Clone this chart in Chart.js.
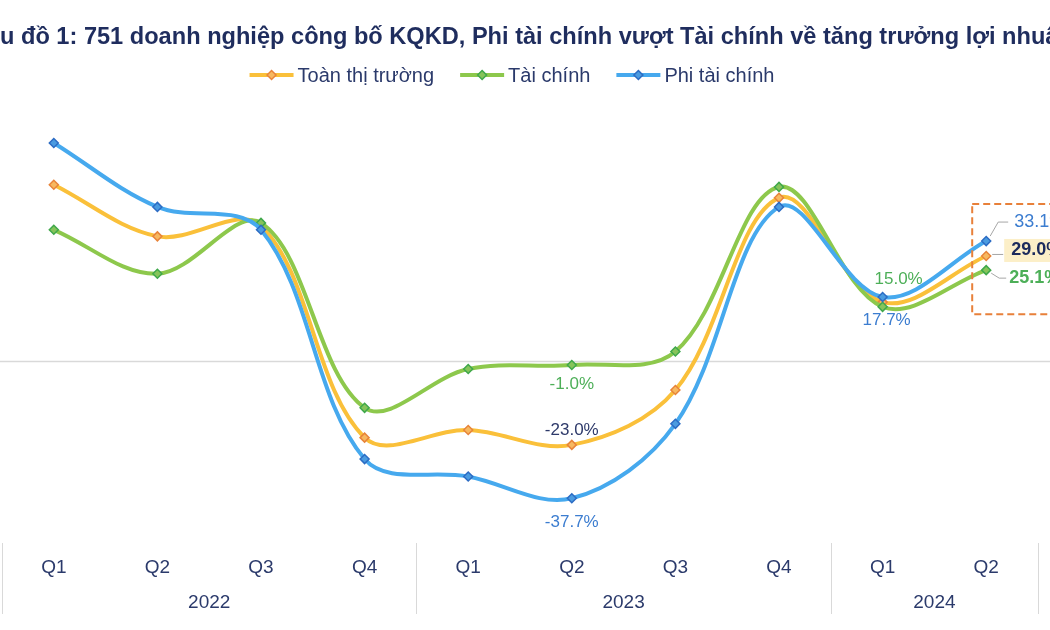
<!DOCTYPE html>
<html>
<head>
<meta charset="utf-8">
<script src="https://cdn.jsdelivr.net/npm/chart.js@4.4.1/dist/chart.umd.min.js"></script>
<style>
  html, body { margin: 0; padding: 0; background: #fff; }
  #wrap { width: 1050px; height: 630px; overflow: hidden; }
</style>
</head>
<body>
<div id="wrap"><canvas id="chart" width="1050" height="630"></canvas></div>
<script>
// data
const quarters = ["Q1", "Q2", "Q3", "Q4", "Q1", "Q2", "Q3", "Q4", "Q1", "Q2"];
const years = ["2022", "2023", "2024"];
const quartersPerYear = [4, 4, 2];
const seriesNames = ["Toàn thị trường", "Tài chính", "Phi tài chính"];
const toanThiTruong = [48.6, 34.4, 37.3, -21.0, -18.9, -23.0, -7.9, 45.0, 16.3, 29.0];
const taiChinh = [36.2, 24.1, 38.1, -12.8, -2.1, -1.0, 2.7, 48.0, 15.0, 25.1];
const phiTaiChinh = [60.1, 42.5, 36.2, -26.9, -31.7, -37.7, -17.2, 42.5, 17.7, 33.1];

const titleText = "Biểu đồ 1: 751 doanh nghiệp công bố KQKD, Phi tài chính vượt Tài chính về tăng trưởng lợi nhuận";

// styles
const lineColors = ["#FAC03A", "#8DC84C", "#46A9EE"];
const markerBorders = ["#E8843A", "#3FA84B", "#2C6CC4"];
const markerFills = ["#F7B860", "#86C45A", "#4A9BE0"];
const labelColors = ["#2E3A6A", "#4DAF58", "#3C7DD0"];
const navy = "#2B3A6B";
const FONT = "Arial, 'Liberation Sans', sans-serif";

// group centers / boundaries for the year row
const yearCenters = [];
const yearBounds = [-0.5];
let start = 0;
quartersPerYear.forEach(n => {
  yearCenters.push(start + (n - 1) / 2);
  start += n;
  yearBounds.push(start - 0.5);
});

// which points carry a plain value label (dataset, index, offset)
const pointLabels = [
  { ds: 1, i: 5, dx: 0, dy: 19 },
  { ds: 0, i: 5, dx: 0, dy: -15 },
  { ds: 2, i: 5, dx: 0, dy: 24 },
  { ds: 1, i: 8, dx: 16, dy: -28 },
  { ds: 2, i: 8, dx: 4, dy: 23 }
];

function diamond(ctx, cx, cy, r, fill, stroke) {
  ctx.beginPath();
  ctx.moveTo(cx, cy - r);
  ctx.lineTo(cx + r, cy);
  ctx.lineTo(cx, cy + r);
  ctx.lineTo(cx - r, cy);
  ctx.closePath();
  ctx.fillStyle = fill;
  ctx.fill();
  ctx.lineWidth = 1.5;
  ctx.strokeStyle = stroke;
  ctx.stroke();
}

function fmt(v) { return v.toFixed(1) + "%"; }

const decor = {
  id: "decor",
  beforeDatasetsDraw(chart) {
    // zero line across the whole width
    const ctx = chart.ctx;
    const y0 = Math.round(chart.scales.y.getPixelForValue(0)) + 0.5;
    ctx.save();
    ctx.strokeStyle = "#D9D9D9";
    ctx.lineWidth = 1.5;
    ctx.beginPath();
    ctx.moveTo(0, y0);
    ctx.lineTo(chart.width, y0);
    ctx.stroke();
    ctx.restore();
  },
  afterDraw(chart) {
    const ctx = chart.ctx;
    const area = chart.chartArea;
    const x2 = chart.scales.x2;
    ctx.save();

    // title (cropped on both sides like the source)
    ctx.font = "bold 20px " + FONT;
    const wAll = ctx.measureText(titleText).width;
    const wCut = ctx.measureText("Biể").width;
    const wHide = ctx.measureText("n").width + ctx.measureText("ậ").width * 0.5;
    const size = 20 * 1052 / (wAll - wCut - wHide);
    ctx.font = "bold " + size.toFixed(2) + "px " + FONT;
    ctx.fillStyle = "#1F2D5E";
    ctx.textBaseline = "middle";
    ctx.textAlign = "left";
    ctx.fillText(titleText, -ctx.measureText("Biể").width, 37);

    // legend
    ctx.font = "20px " + FONT;
    const lineLen = 44, gapText = 4, gapItem = 26;
    const widths = seriesNames.map(s => ctx.measureText(s).width);
    const total = widths.reduce((a, w) => a + lineLen + gapText + w, 0) + gapItem * (seriesNames.length - 1);
    let lx = 512 - total / 2;
    const ly = 75;
    seriesNames.forEach((name, k) => {
      ctx.strokeStyle = lineColors[k];
      ctx.lineWidth = 4;
      ctx.beginPath();
      ctx.moveTo(lx, ly);
      ctx.lineTo(lx + lineLen, ly);
      ctx.stroke();
      diamond(ctx, lx + lineLen / 2, ly, 4.5, markerFills[k], markerBorders[k]);
      ctx.fillStyle = navy;
      ctx.fillText(name, lx + lineLen + gapText, ly + 1);
      lx += lineLen + gapText + widths[k] + gapItem;
    });

    // year separators
    ctx.strokeStyle = "#D9D9D9";
    ctx.lineWidth = 1;
    yearBounds.forEach(b => {
      const px = Math.round(x2.getPixelForValue(b)) + 0.5;
      ctx.beginPath();
      ctx.moveTo(px, area.bottom);
      ctx.lineTo(px, area.bottom + 71);
      ctx.stroke();
    });

    // plain value labels
    ctx.font = "17px " + FONT;
    ctx.textAlign = "center";
    const sets = chart.data.datasets;
    pointLabels.forEach(l => {
      const p = chart.getDatasetMeta(l.ds).data[l.i];
      ctx.fillStyle = labelColors[l.ds];
      ctx.fillText(fmt(sets[l.ds].data[l.i]), p.x + l.dx, p.y + l.dy);
    });

    // callouts for the last quarter
    const last = quarters.length - 1;
    const pT = chart.getDatasetMeta(0).data[last];
    const pF = chart.getDatasetMeta(1).data[last];
    const pN = chart.getDatasetMeta(2).data[last];

    ctx.strokeStyle = "#E8803A";
    ctx.lineWidth = 2;
    ctx.setLineDash([7, 4]);
    ctx.strokeRect(pN.x - 14, pN.y - 37, 120, pF.y + 44 - (pN.y - 37));
    ctx.setLineDash([]);

    ctx.strokeStyle = "#A6A6A6";
    ctx.lineWidth = 1;
    ctx.beginPath();
    ctx.moveTo(pN.x + 4, pN.y - 5);
    ctx.lineTo(pN.x + 12, pN.y - 19);
    ctx.lineTo(pN.x + 22, pN.y - 19);
    ctx.moveTo(pT.x + 6, pT.y - 1.5);
    ctx.lineTo(pT.x + 17, pT.y - 1.5);
    ctx.moveTo(pF.x + 5, pF.y + 3);
    ctx.lineTo(pF.x + 13, pF.y + 8);
    ctx.lineTo(pF.x + 20, pF.y + 8);
    ctx.stroke();

    ctx.fillStyle = "#FCEFC8";
    ctx.fillRect(pT.x + 18, pT.y - 17, 70, 23);

    ctx.textAlign = "left";
    ctx.font = "18px " + FONT;
    ctx.fillStyle = labelColors[2];
    ctx.fillText(fmt(sets[2].data[last]), pN.x + 28, pN.y - 19);
    ctx.font = "bold 18px " + FONT;
    ctx.fillStyle = "#1B2A5C";
    ctx.fillText(fmt(sets[0].data[last]), pT.x + 25, pT.y - 5.5);
    ctx.fillStyle = labelColors[1];
    ctx.fillText(fmt(sets[1].data[last]), pF.x + 23, pF.y + 8);

    ctx.restore();
  }
};

const seriesValues = [toanThiTruong, taiChinh, phiTaiChinh];
const drawOrder = [2, 1, 0];

const ctx = document.getElementById("chart").getContext("2d");
new Chart(ctx, {
  type: "line",
  data: {
    labels: quarters,
    datasets: seriesNames.map((name, k) => ({
      label: name,
      data: seriesValues[k],
      order: drawOrder[k],
      borderColor: lineColors[k],
      borderWidth: 4,
      tension: 0.35,
      pointStyle: "rectRot",
      pointRadius: 4.5,
      pointBorderWidth: 1.5,
      pointBackgroundColor: markerFills[k],
      pointBorderColor: markerBorders[k],
      fill: false,
      clip: false
    }))
  },
  options: {
    responsive: false,
    devicePixelRatio: 1,
    animation: false,
    layout: { autoPadding: false, padding: { top: 107, left: 2, right: 12, bottom: 12 } },
    plugins: {
      legend: { display: false },
      title: { display: false },
      tooltip: { enabled: false }
    },
    scales: {
      y: {
        display: false,
        min: -50,
        max: 70
      },
      x: {
        type: "category",
        offset: true,
        grid: { display: false, drawTicks: false },
        border: { display: false },
        ticks: { color: navy, font: { size: 19, family: FONT }, padding: 13, maxRotation: 0, autoSkip: false },
        afterFit: s => { s.height = 40; }
      },
      x2: {
        type: "linear",
        position: "bottom",
        min: -0.5,
        max: 9.5,
        grid: { display: false, drawTicks: false },
        border: { display: false },
        afterBuildTicks: s => { s.ticks = yearCenters.map(v => ({ value: v })); },
        ticks: {
          color: navy,
          font: { size: 19, family: FONT },
          padding: 8,
          autoSkip: false,
          maxRotation: 0,
          callback: v => {
            const k = yearCenters.indexOf(v);
            return k >= 0 ? years[k] : "";
          }
        },
        afterFit: s => { s.height = 35; }
      }
    }
  },
  plugins: [decor]
});
</script>
</body>
</html>
